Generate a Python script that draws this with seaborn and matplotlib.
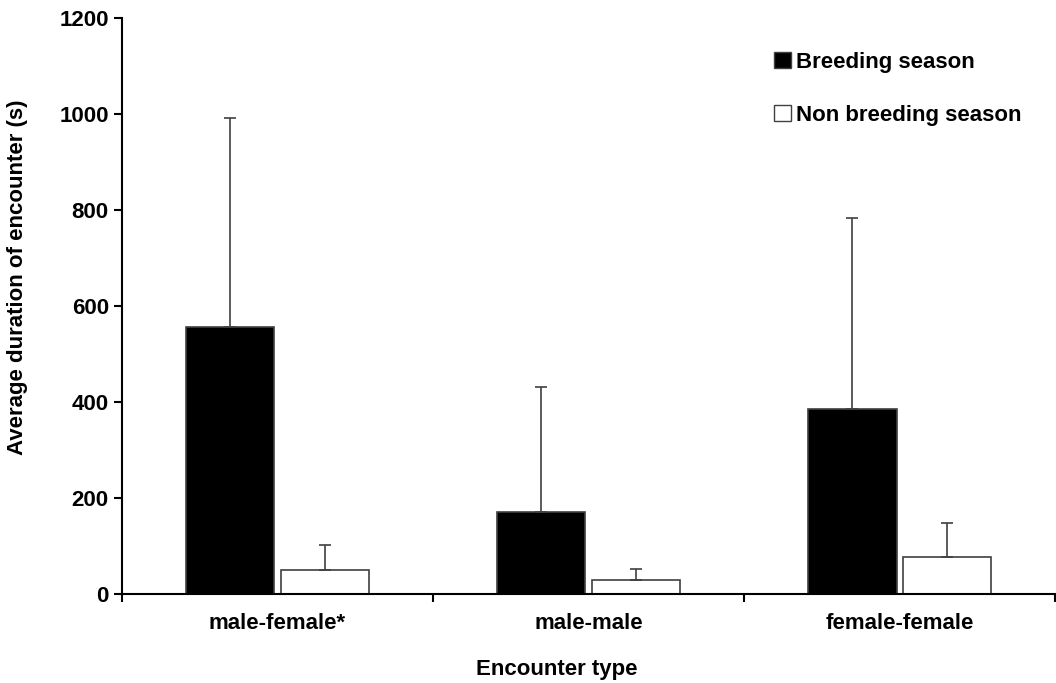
import pandas as pd
import matplotlib.pyplot as plt
import matplotlib.patches as mpatches
import seaborn as sns

# Data
encounter = ["male-female*", "male-male", "female-female"]
seasons = ["Breeding season", "Non breeding season"]
breeding_mean = [556, 171, 385]
breeding_err = [436, 260, 398]
nonbreeding_mean = [50, 29, 77]
nonbreeding_err = [52, 23, 71]

frame = pd.DataFrame({
    "Encounter": encounter * 2,
    "Season": [seasons[0]] * 3 + [seasons[1]] * 3,
    "Duration": breeding_mean + nonbreeding_mean,
    "Err": breeding_err + nonbreeding_err,
})

sns.set_style("white")
plt.rcParams["font.family"] = ["Liberation Sans", "DejaVu Sans"]
plt.rcParams["font.weight"] = "bold"
plt.rcParams["text.color"] = "black"
plt.rcParams["axes.labelcolor"] = "black"
plt.rcParams["xtick.color"] = "black"
plt.rcParams["ytick.color"] = "black"

fig = plt.figure(figsize=(10.56, 6.83), dpi=100)
ax = fig.add_axes([0.1155, 0.1303, 0.884, 0.8433])

sns.barplot(
    data=frame, x="Encounter", y="Duration", hue="Season",
    palette=["black", "white"], width=0.61, gap=0.07,
    edgecolor="#404040", linewidth=1.2, errorbar=None, legend=False, ax=ax,
)

# One-sided error bars on top of each bar
bars = [p for p in ax.patches if p.get_height() > 0]
bars = sorted(bars, key=lambda p: p.get_x())
errs = []
for b, n in zip(breeding_err, nonbreeding_err):
    errs += [b, n]
for patch, err in zip(bars, errs):
    xc = patch.get_x() + patch.get_width() / 2
    h = patch.get_height()
    ax.errorbar(xc, h, yerr=[[0], [err]], fmt="none", ecolor="#404040",
                elinewidth=1.2, capsize=4, capthick=1.2)

ax.set_ylim(0, 1200)
ax.set_xlim(-0.5, 2.5)
ax.set_yticks(range(0, 1201, 200))
ax.set_xticks([0, 1, 2])
ax.set_xticks([-0.5, 0.5, 1.5, 2.5], minor=True)
ax.tick_params(axis="x", which="major", length=0, pad=14, labelsize=16)
ax.tick_params(axis="x", which="minor", length=6, width=1.5, direction="out", bottom=True)
ax.tick_params(axis="y", length=6, width=1.5, direction="out", left=True, labelsize=16)
for lab in ax.get_xticklabels() + ax.get_yticklabels():
    lab.set_fontweight("bold")

sns.despine(ax=ax)
ax.spines["left"].set_linewidth(1.5)
ax.spines["bottom"].set_linewidth(1.5)
ax.spines["left"].set_color("black")
ax.spines["bottom"].set_color("black")

ax.set_xlabel("Encounter type", fontsize=16, fontweight="bold")
ax.set_ylabel("Average duration of encounter (s)", fontsize=16, fontweight="bold")
ax.xaxis.set_label_coords(0.466, -0.113)
ax.yaxis.set_label_coords(-0.101, 0.55)

handles = [
    mpatches.Patch(facecolor="black", edgecolor="#404040", label=seasons[0]),
    mpatches.Patch(facecolor="white", edgecolor="#404040", label=seasons[1]),
]
ax.legend(handles=handles, loc="upper left", bbox_to_anchor=(0.677, 0.976),
          frameon=False, handlelength=0.75, handleheight=0.75, handletextpad=0.25,
          labelspacing=1.45, prop={"size": 16, "weight": "bold"})

fig.savefig("out.png", dpi=100)
